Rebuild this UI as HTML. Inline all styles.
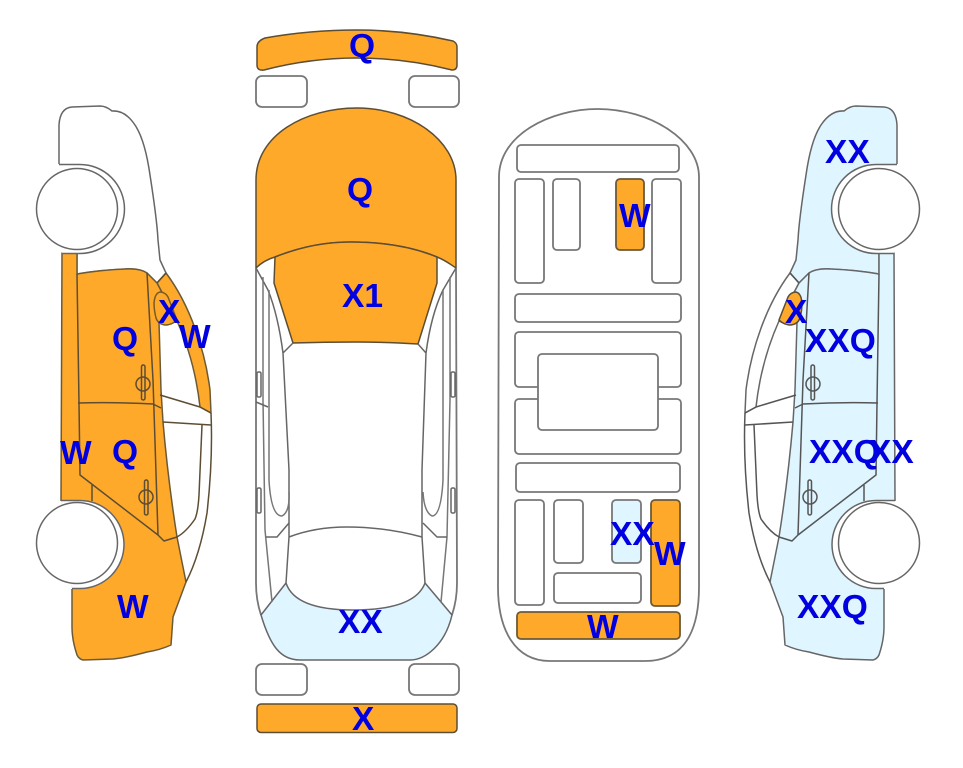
<!DOCTYPE html>
<html>
<head>
<meta charset="utf-8">
<style>
html,body{margin:0;padding:0;background:#fff}
svg{display:block}
text{font-family:"Liberation Sans",sans-serif;font-weight:bold;font-size:33.500px;fill:#0000E1}
</style>
</head>
<body>
<svg width="963" height="768" viewBox="0 0 963 768" xmlns="http://www.w3.org/2000/svg" stroke-width="1.5" stroke-linejoin="round">
<defs>
  <path id="hood" d="M59,164 L59,125 Q60,108 72,107 L100,106 Q106,106 112,111 Q125,110 135,125 Q145,140 150,175 Q157,220 158,240 L160,260 L166,273 L157,283 L147,273 Q140,268 125,269 Q100,270 77,274 L77,253 L62,253"/>
  <path id="strip" d="M166,273 C190,305 205,350 210,390 L211,413 L200,407 C197,380 190,350 177,321 L157,283 Z"/>
  <path id="body" d="M61,501 L62,253 H77 L77,274 Q100,270 125,269 Q140,268 147,273 L157,283 L177,321 L167,325 L159,322 L161,390 L163,422 Q168,480 177,537 L186,582 L173,617 L171,645 Q160,650 147,652 Q125,658 113,659 L83,660 Q79,659 77,655 Q72,640 72,627 L72,589"/>
  <path id="mirror" d="M154,303 Q155,292 161,292 Q166,293 168,297 L177,320 Q172,325 165,325 Q158,324 156,318 Q154,310 154,303 Z"/>
  <g id="lines" fill="none">
    <path d="M77,274 L79,403 L80,475 L158,535 L164,541 L177,537"/>
    <path d="M147,273 L153,380 L158,535"/>
    <path d="M78,403 Q115,402 153,404 L161,408"/>
    <path d="M160,395 L200,407 L211,413"/>
    <path d="M163,422 L211,425"/>
    <path d="M92,485 V501"/>
    <path d="M166,273 L157,283"/>
    <path d="M211,413 Q213,460 207,513 Q200,555 186,582"/>
    <path d="M202,425 L199,495 Q198,512 195,519 Q186,532 177,537"/>
    <rect x="141.500" y="365" width="3.500" height="35" rx="1.700"/>
    <ellipse cx="143" cy="384" rx="7" ry="7"/>
    <rect x="144.500" y="480" width="3.500" height="35" rx="1.700"/>
    <ellipse cx="146" cy="497" rx="7" ry="7"/>
  </g>
  <g id="wheels">
    <path fill="#fff" d="M59,164.500 H80 A44.500,44.500 0 0 1 80,253.500 H62"/>
    <circle cx="77" cy="209" r="40.500" fill="#fff"/>
    <path fill="#fff" d="M61,500.500 H80 A44,44 0 0 1 80,588.500 H72"/>
    <circle cx="77" cy="543" r="40.500" fill="#fff"/>
  </g>
</defs>

<!-- left car -->
<g stroke="#666">
  <use href="#hood" fill="#fff"/>
  <use href="#strip" fill="#FFA92B" stroke="#6b5a38"/>
  <use href="#body" fill="#FFA92B" stroke="#6b5a38"/>
  <use href="#mirror" fill="#FFA92B" stroke="#7a5a20"/>
  <use href="#lines" stroke="#5c4d33"/>
  <use href="#wheels"/>
</g>

<!-- right car -->
<g transform="matrix(-1 0 0 1 956 0)" stroke="#666">
  <use href="#hood" fill="#DFF5FF"/>
  <use href="#strip" fill="#fff"/>
  <use href="#body" fill="#DFF5FF"/>
  <use href="#mirror" fill="#FFA92B" stroke="#5c4d33"/>
  <use href="#lines" stroke="#555"/>
  <use href="#wheels"/>
</g>

<!-- top view -->
<g stroke="#666" fill="none">
  <path d="M257,47 Q257,41 265,38 Q310,30 357,30 Q405,30 453,41 Q457,43 457,47 V65 Q457,70 452,70 Q405,58 357,58 Q310,58 264,70 Q257,71 257,65 Z" fill="#FFA92B" stroke="#5c4d33"/>
  <rect x="256" y="76" width="51" height="31" rx="6" fill="#fff" stroke="#777" stroke-width="1.800"/>
  <rect x="409" y="76" width="50" height="31" rx="6" fill="#fff" stroke="#777" stroke-width="1.800"/>
  <rect x="256" y="664" width="51" height="31" rx="6" fill="#fff" stroke="#777" stroke-width="1.800"/>
  <rect x="409" y="664" width="50" height="31" rx="6" fill="#fff" stroke="#777" stroke-width="1.800"/>
  <rect x="257" y="704" width="200" height="28.500" rx="4" fill="#FFA92B" stroke="#5c4d33"/>

  <path d="M256,268 V180 C256,135 305,108 357,108 C410,108 456,140 456,180 V268 C450,264 445,260 437,257 C415,248 385,242 350,242 C325,242 300,247 275,257 C268,259 262,262 256,268 Z" fill="#FFA92B" stroke="#5c4d33"/>
  <path d="M275,257 C300,247 325,242 350,242 C385,242 415,248 437,257 V283 L418,344 Q385,342 357,342 Q325,342 293,343 L274,283 Z" fill="#FFA92B" stroke="#5c4d33"/>
  <path d="M256,268 V583 Q256,600 261,615 M452,615 Q457,600 457,583 L456,268" stroke="#777" stroke-width="1.800"/>
  <path d="M261,615 L286,583 Q295,610 353,610 Q415,610 425,583 L452,615 C445,645 425,660 410,660 H300 C280,660 270,645 261,615 Z" fill="#DFF5FF" stroke="#666"/>

  <path d="M256,268 L268,290 Q278,315 283,353 L293,343 M283,353 L289,470 V537 L286,583"/>
  <path d="M456,268 L443,290 Q431,315 426,353 L418,344 M426,353 L422,470 V537 L425,583"/>
  <path d="M263,277 V400 L265,530 L272,602" stroke="#777"/>
  <path d="M450,277 V400 L447,537 L441,602" stroke="#777"/>
  <path d="M269,290 V480 Q271,516 282,516 Q290,512 289,492" stroke="#777"/>
  <path d="M443,290 V480 Q441,516 432,516 Q424,512 423,492" stroke="#777"/>
  <path d="M256,402 L268,407"/>
  <path d="M289,537 Q315,527 347,527 Q385,527 422,537"/>
  <path d="M266,537 H277 L289,523"/>
  <path d="M447,537 H437 L423,523"/>
  <rect x="257" y="372" width="4" height="25" rx="1.500"/>
  <rect x="257" y="488" width="4" height="25" rx="1.500"/>
  <rect x="451" y="372" width="4" height="25" rx="1.500"/>
  <rect x="451" y="488" width="4" height="25" rx="1.500"/>
</g>

<!-- floor plan -->
<g stroke="#777" fill="#fff" stroke-width="1.800">
  <path d="M499,177 C499,135 550,109 598,109 C650,109 699,140 699,177 V587 C699,630 685,661 645,661 H550 C515,661 498,630 498,587 Z"/>
  <rect x="517" y="145" width="162" height="27" rx="4"/>
  <rect x="515" y="179" width="29" height="104" rx="4"/>
  <rect x="553" y="179" width="27" height="71" rx="4"/>
  <rect x="616" y="179" width="28" height="71" rx="4" fill="#FFA92B" stroke="#6b5a38"/>
  <rect x="652" y="179" width="29" height="104" rx="4"/>
  <rect x="515" y="294" width="166" height="28" rx="4"/>
  <rect x="515" y="332" width="166" height="55" rx="4"/>
  <rect x="515" y="399" width="166" height="55" rx="4"/>
  <rect x="538" y="354" width="120" height="76" rx="4"/>
  <rect x="516" y="463" width="164" height="29" rx="4"/>
  <rect x="515" y="500" width="29" height="105" rx="4"/>
  <rect x="554" y="500" width="29" height="63" rx="4"/>
  <rect x="612" y="500" width="29" height="63" rx="4" fill="#DFF5FF"/>
  <rect x="651" y="500" width="29" height="106" rx="4" fill="#FFA92B" stroke="#6b5a38"/>
  <rect x="554" y="573" width="87" height="30" rx="4"/>
  <rect x="517" y="612" width="163" height="27" rx="4" fill="#FFA92B" stroke="#6b5a38"/>
</g>

<!-- labels -->
<text x="349" y="57">Q</text>
<text x="347" y="201">Q</text>
<text x="342" y="307">X1</text>
<text x="338" y="633">XX</text>
<text x="352" y="730">X</text>

<text x="112" y="350">Q</text>
<text x="158" y="323">X</text>
<text x="179" y="348">W</text>
<text x="60" y="464">W</text>
<text x="112" y="463">Q</text>
<text x="117" y="618">W</text>

<text x="619" y="227">W</text>
<text x="610" y="545">XX</text>
<text x="654" y="565">W</text>
<text x="587" y="638">W</text>

<text x="825" y="163">XX</text>
<text x="785" y="323">X</text>
<text x="805" y="352">XXQ</text>
<text x="809" y="463">XXQ</text>
<text x="869" y="463">XX</text>
<text x="797" y="618">XXQ</text>
</svg>
</body>
</html>
